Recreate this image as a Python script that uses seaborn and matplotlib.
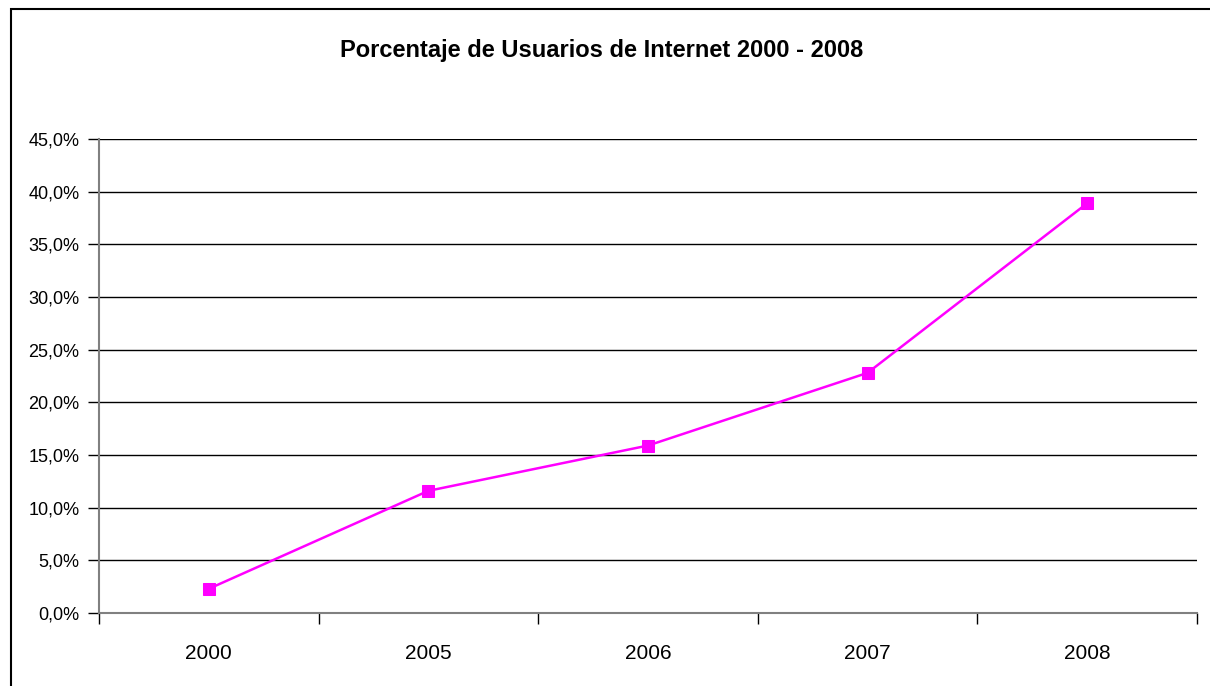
import numpy as np
import pandas as pd
import matplotlib
matplotlib.use('Agg')
import matplotlib.pyplot as plt
import seaborn as sns
from matplotlib.patches import Rectangle
from matplotlib.ticker import FuncFormatter, FixedLocator

years = ['2000', '2005', '2006', '2007', '2008']
usuarios_pct = [2.3, 11.6, 15.9, 22.8, 38.9]
y_ticks = [0, 5, 10, 15, 20, 25, 30, 35, 40, 45]

df = pd.DataFrame({'pos': np.arange(len(years)), 'pct': usuarios_pct})

sns.set_theme(style='white')
plt.rcParams['font.family'] = ['DejaVu Sans Condensed', 'Liberation Sans']
plt.rcParams['text.color'] = 'black'
plt.rcParams['xtick.color'] = 'black'
plt.rcParams['ytick.color'] = 'black'

fig = plt.figure(figsize=(12.1, 6.86), dpi=100)
ax = fig.add_axes([0.0818, 0.1064, 0.9074, 0.6909])

sns.lineplot(data=df, x='pos', y='pct', ax=ax, color='#FF00FF', linewidth=1.8,
             marker='s', markersize=8, markeredgecolor='#FF00FF')

ax.set_xlim(-0.5, len(years) - 0.5)
ax.set_ylim(0, 45)
ax.yaxis.set_major_locator(FixedLocator(y_ticks))
ax.yaxis.set_major_formatter(FuncFormatter(lambda v, _: f'{v:.1f}%'.replace('.', ',')))
ax.grid(axis='y', color='black', linewidth=1)
ax.set_axisbelow(True)

# category boundaries get tick marks, centres get the labels
ax.xaxis.set_major_locator(FixedLocator(np.arange(len(years) + 1) - 0.5))
ax.xaxis.set_minor_locator(FixedLocator(np.arange(len(years))))
ax.set_xticklabels([], minor=False)
ax.set_xticklabels(years, minor=True)
ax.tick_params(axis='x', which='major', length=8, width=1, direction='out', bottom=True)
ax.tick_params(axis='x', which='minor', length=0, pad=22, labelsize=15)
ax.tick_params(axis='y', length=8, width=1, direction='out', left=True, labelsize=13, pad=6)

for s in ['top', 'right']:
    ax.spines[s].set_visible(False)
for s in ['left', 'bottom']:
    ax.spines[s].set_color('#808080')
    ax.spines[s].set_linewidth(1.5)

ax.set_xlabel('')
ax.set_ylabel('')

fig.text(0.497, 0.927, 'Porcentaje de Usuarios de Internet 2000 - 2008',
         ha='center', va='center', fontsize=17, fontweight='bold')

# chart-area border (extends past the right and bottom edges)
fig.patches.append(Rectangle((11 / 1210, -0.05), 1.1, 0.05 + (686 - 9) / 686,
                             transform=fig.transFigure, fill=False,
                             edgecolor='black', linewidth=1.5))

fig.savefig('out.png', dpi=100)
